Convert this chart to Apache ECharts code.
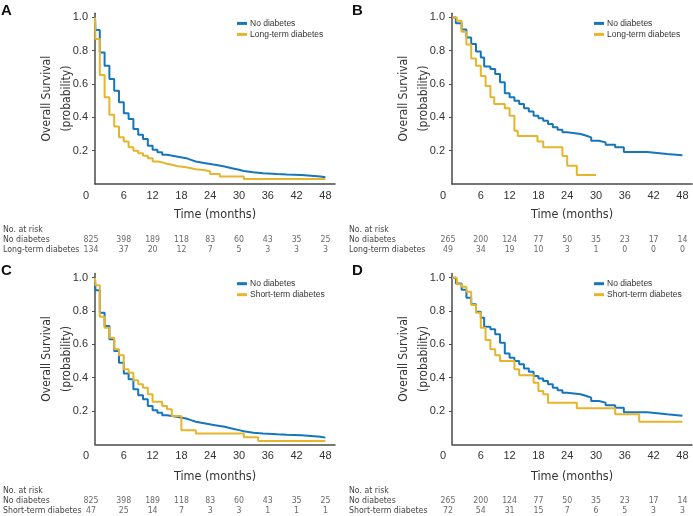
<!DOCTYPE html>
<html>
<head>
<meta charset="utf-8">
<script src="https://cdn.jsdelivr.net/npm/echarts@6/dist/echarts.min.js"></script>
<style>
html,body{margin:0;padding:0;background:#fff;}
#chart{width:693px;height:516px;}
</style>
</head>
<body>
<div id="chart"></div>
<script>
// ---------- data ----------
const timeTicks = [0, 6, 12, 18, 24, 30, 36, 42, 48];
const yTicks = [0.2, 0.4, 0.6, 0.8, 1.0];

// Kaplan-Meier steps [month, survival]
const survNoDiab1 = [[0,1],[0.1,0.925],[1,0.79],[2,0.71],[3,0.63],[4,0.56],[5,0.49],[6,0.425],[7,0.39],[8,0.33],[9,0.295],[10,0.27],[11,0.23],[12,0.205],[13,0.19],[14,0.175],[15,0.165],[17,0.155],[19,0.145],[20,0.135],[21,0.125],[23,0.115],[25,0.105],[27,0.095],[28.5,0.085],[30,0.078],[31,0.07],[33,0.065],[35,0.06],[38,0.057],[40,0.054],[43,0.05],[45,0.045],[47,0.04],[48,0.038]];
const survLong1 = [[0,1],[0.1,0.87],[1,0.655],[2,0.52],[3,0.415],[4,0.345],[5,0.28],[6,0.255],[7,0.22],[8,0.2],[9,0.185],[10,0.17],[11,0.155],[12,0.135],[13,0.13],[14,0.122],[15,0.115],[16,0.108],[17,0.1],[19,0.095],[20,0.088],[21,0.082],[23,0.075],[24,0.06],[26,0.045],[31,0.03],[48,0.03]];
const survShort1 = [[0,1],[0.1,0.955],[1,0.765],[2,0.70],[3,0.64],[4,0.57],[5,0.535],[6,0.45],[7,0.43],[8,0.385],[9,0.36],[10,0.34],[11,0.30],[12,0.255],[14,0.23],[15,0.21],[16,0.17],[18,0.085],[21,0.065],[31,0.043],[34,0.02],[48,0.02]];
const survNoDiab2 = [[0,1],[0.8,0.965],[2,0.928],[3,0.88],[4,0.84],[5,0.795],[6,0.76],[6.7,0.705],[8,0.69],[9,0.66],[10,0.61],[11,0.545],[12,0.52],[13,0.50],[14,0.48],[15,0.455],[16,0.435],[17,0.41],[18,0.395],[19,0.38],[20,0.36],[21,0.34],[22,0.325],[23,0.31],[24,0.30],[26.8,0.29],[28,0.28],[29,0.26],[30.6,0.25],[32,0.235],[34,0.22],[35.8,0.192],[40.7,0.18],[44.8,0.172],[48,0.172]];
const survLong2 = [[0,1],[1,0.98],[2,0.914],[3,0.838],[4,0.754],[5,0.71],[6,0.648],[7,0.588],[8,0.52],[8.8,0.48],[11,0.455],[12,0.41],[13,0.32],[13.7,0.288],[17.8,0.255],[19,0.22],[23,0.168],[24,0.11],[26,0.054],[30,0.054]];
const survShort2 = [[0,1],[1,0.96],[2,0.945],[3,0.915],[4,0.836],[5,0.79],[6,0.70],[7,0.626],[8,0.57],[9,0.534],[10,0.50],[13,0.45],[14,0.414],[17,0.37],[18,0.32],[19,0.30],[20,0.25],[26,0.216],[34,0.18],[39,0.136],[48,0.136]];

// numbers at risk
const riskNoDiab1 = [825, 398, 189, 118, 83, 60, 43, 35, 25];
const riskLong1 = [134, 37, 20, 12, 7, 5, 3, 3, 3];
const riskShort1 = [47, 25, 14, 7, 3, 3, 1, 1, 1];
const riskNoDiab2 = [265, 200, 124, 77, 50, 35, 23, 17, 14];
const riskLong2 = [49, 34, 19, 10, 3, 1, 0, 0, 0];
const riskShort2 = [72, 54, 31, 15, 7, 6, 5, 3, 3];

const panelLetters = ['A', 'B', 'C', 'D'];
const nameNo = 'No diabetes';
const nameLong = 'Long-term diabetes';
const nameShort = 'Short-term diabetes';

// ---------- styles / layout ----------
const BLUE = '#1676bc';
const GOLD = '#e6b52c';
const AXIS = '#4a4a4a';
const TXT = '#333';
const SANS = "'Liberation Sans', Arial, sans-serif";
const NARROW = "'DejaVu Sans Condensed', 'Liberation Sans', sans-serif";
const YMAX = 1.025;
const PX_PER_UNIT = 166.6;

const panels = [
  {letter: panelLetters[0], left: 95, y0: 184, other: nameLong, surv: [survNoDiab1, survLong1], risk: [riskNoDiab1, riskLong1], riskTop: 225, nameGap: 24, lx: 1, ly: 3},
  {letter: panelLetters[1], left: 452, y0: 184, other: nameLong, surv: [survNoDiab2, survLong2], risk: [riskNoDiab2, riskLong2], riskTop: 225, nameGap: 24, lx: 352, ly: 3},
  {letter: panelLetters[2], left: 95, y0: 444.3, other: nameShort, surv: [survNoDiab1, survShort1], risk: [riskNoDiab1, riskShort1], riskTop: 486, nameGap: 26, lx: 1, ly: 263},
  {letter: panelLetters[3], left: 452, y0: 444.3, other: nameShort, surv: [survNoDiab2, survShort2], risk: [riskNoDiab2, riskShort2], riskTop: 486, nameGap: 26, lx: 352, ly: 263}
];

const option = {
  backgroundColor: '#fff',
  animation: false,
  title: [], legend: [], grid: [], xAxis: [], yAxis: [], series: []
};

panels.forEach((p, i) => {
  const gMain = i * 2, gRisk = i * 2 + 1;
  const h = YMAX * PX_PER_UNIT;
  option.title.push({
    text: p.letter, left: p.lx, top: p.ly, padding: 0,
    textStyle: {fontFamily: SANS, fontWeight: 'bold', fontSize: 15, color: '#111'}
  });
  option.grid.push({left: p.left, top: p.y0 - h, width: 240, height: h, containLabel: false});
  option.grid.push({left: p.left, top: p.riskTop, width: 240, height: 30, containLabel: false});

  option.xAxis.push({
    type: 'value', gridIndex: gMain, min: 0, max: 50,
    axisLine: {lineStyle: {color: AXIS, width: 1.5}},
    axisTick: {show: false},
    splitLine: {show: false},
    axisLabel: {
      customValues: timeTicks, margin: 6, fontFamily: SANS, fontSize: 11, color: TXT,
      formatter: v => v === 0 ? '{z|0}' : String(v),
      rich: {z: {fontFamily: SANS, fontSize: 11, color: TXT, padding: [0, 18, 0, 0]}}
    },
    name: 'Time (months)', nameLocation: 'middle', nameGap: p.nameGap, nameMoveOverlap: false,
    nameTextStyle: {fontFamily: NARROW, fontSize: 12.5, color: TXT}
  });
  option.xAxis.push({type: 'value', gridIndex: gRisk, min: 0, max: 50, show: false});

  option.yAxis.push({
    type: 'value', gridIndex: gMain, min: 0, max: YMAX,
    axisLine: {show: true, lineStyle: {color: AXIS, width: 1.5}},
    axisTick: {show: true, length: 3, customValues: yTicks, lineStyle: {color: AXIS, width: 1}},
    splitLine: {show: false},
    axisLabel: {customValues: yTicks, margin: 7, fontFamily: SANS, fontSize: 11, color: TXT,
      formatter: v => v.toFixed(1)},
    name: 'Overall Survival\n(probability)', nameLocation: 'middle', nameGap: 18, nameMoveOverlap: false,
    nameTextStyle: {fontFamily: NARROW, fontSize: 12, lineHeight: 20, color: TXT}
  });
  const rows = ['No. at risk', nameNo, p.other];
  option.yAxis.push({
    type: 'category', gridIndex: gRisk, data: rows, inverse: true,
    axisLine: {show: false}, axisTick: {show: false}, splitLine: {show: false},
    axisLabel: {interval: 0, align: 'left', margin: p.left - (p.left > 300 ? 349 : 3), fontFamily: NARROW, fontSize: 8.7, color: '#444'}
  });

  option.legend.push({
    data: [nameNo, p.other], orient: 'vertical',
    left: p.left + 142, top: p.y0 - PX_PER_UNIT + 1,
    padding: 0, itemGap: 1, itemWidth: 10, itemHeight: 3, icon: 'rect',
    textStyle: {fontFamily: SANS, fontSize: 8.5, color: TXT, lineHeight: 10, padding: [0, 0, 0, -2]},
    selectedMode: false
  });

  [nameNo, p.other].forEach((nm, k) => {
    option.series.push({
      type: 'line', name: nm, xAxisIndex: gMain, yAxisIndex: gMain,
      step: 'end', showSymbol: false, symbol: 'none',
      data: p.surv[k], color: k === 0 ? BLUE : GOLD,
      lineStyle: {width: 2, color: k === 0 ? BLUE : GOLD},
      z: k === 0 ? 3 : 4, silent: true
    });
  });

  const pts = [];
  p.risk.forEach((arr, r) => {
    arr.forEach((n, j) => {
      pts.push({value: [timeTicks[j], rows[r + 1], n], label: {offset: [j === 0 ? -4 : 0, 0]}});
    });
  });
  option.series.push({
    type: 'scatter', xAxisIndex: gRisk, yAxisIndex: gRisk, symbolSize: 1,
    itemStyle: {color: 'rgba(0,0,0,0)'}, silent: true,
    label: {show: true, position: 'inside', formatter: q => String(q.value[2]),
      fontFamily: NARROW, fontSize: 8.7, color: '#444'},
    data: pts
  });
});

const chart = echarts.init(document.getElementById('chart'), null, {renderer: 'canvas'});
chart.setOption(option);
</script>
</body>
</html>
